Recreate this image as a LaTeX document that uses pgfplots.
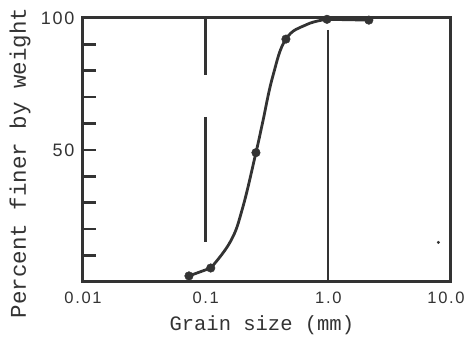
\documentclass[border=0pt]{standalone}
\usepackage{fontspec}
\usepackage{pgfplots}
\pgfplotsset{compat=1.18}
\setmainfont{Liberation Sans}
\newfontfamily\tickfont[LetterSpace=10]{Liberation Sans}
\newfontfamily\labfont{Liberation Mono}
\definecolor{ink}{HTML}{333333}
\begin{document}
\begin{tikzpicture}
\useasboundingbox (0,0) rectangle (469pt,340pt);
\begin{axis}[
  at={(83pt,58pt)}, anchor=south west,
  scale only axis, width=368pt, height=264pt,
  xmode=log, xmin=0.01, xmax=10, ymin=0, ymax=100,
  axis line style={ink, line width=3pt},
  xtick={0.01,0.1,1,10}, xticklabels={0.01,0.1,1.0,10.0\kern10pt},
  ytick={0,10,...,100}, yticklabels={,,,,,50,,,,,100},
  minor xtick={},
  x tick style={draw=none},
  y tick style={ink, line width=2.6pt},
  ytick pos=left, tick align=inside, major tick length=13pt,
  xticklabel style={font=\tickfont\fontsize{16.5}{16.5}\selectfont, text=ink, yshift=-6pt},
  yticklabel style={font=\tickfont\fontsize{18}{18}\selectfont, text=ink, xshift=-5pt},
  log ticks with fixed point,
  xlabel={Grain size (mm)}, ylabel={Percent finer by weight},
  xlabel style={font=\labfont\fontsize{20.5}{20.5}\selectfont, text=ink, at={(axis description cs:0.486,-0.163)}, anchor=center},
  ylabel style={font=\labfont\fontsize{22.5}{22.5}\selectfont, text=ink, at={(axis description cs:-0.171,0.45)}, anchor=center},
  clip=false,
]
% fraction boundary lines
\addplot[ink, line width=2.4pt] coordinates {(0.1,100) (0.1,78.5)};
\addplot[ink, line width=2.4pt] coordinates {(0.1,62.5) (0.1,15)};
\addplot[ink, line width=2.2pt] coordinates {(1.0,95.5) (1.0,0)};
% grading curve
\addplot[ink, line width=2.8pt] coordinates {(0.0731,2.3) (0.11,5.3)};
\addplot[ink, line width=2.8pt, smooth, tension=0.7] coordinates {(0.11,5.3) (0.16,15.5) (0.2,28) (0.257,49) (0.29,60) (0.353,78) (0.451,92) (0.665,97.5) (0.975,99.5)};
\addplot[ink, line width=2.8pt] coordinates {(0.975,99.5) (2.14,99.2)};
\addplot[only marks, mark=*, mark size=4.3pt, mark options={fill=ink, draw=ink}] coordinates {(0.0731,2.3) (0.11,5.3) (0.257,49) (0.451,92) (0.975,99.5) (2.14,99.2)};
\addplot[only marks, mark=*, mark size=1.3pt, mark options={fill=ink, draw=ink}] coordinates {(7.9,15)};
\end{axis}
\end{tikzpicture}
\end{document}
